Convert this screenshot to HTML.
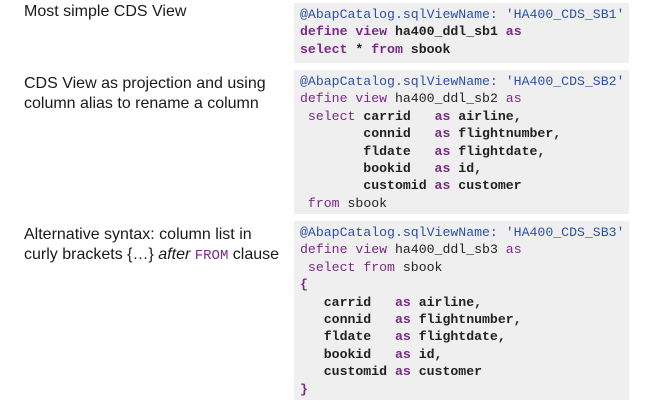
<!DOCTYPE html>
<html><head><meta charset="utf-8"><style>
body{margin:0;width:646px;height:405px;background:#fff;position:relative;overflow:hidden;font-family:"Liberation Sans",Arial,sans-serif;}
.l{position:absolute;left:24px;font-size:16px;line-height:20px;color:#1a1a1a;}
.box{position:absolute;left:294px;width:335px;background:#efefef;}
pre{margin:0;position:absolute;left:6px;font-family:"Liberation Mono","DejaVu Sans Mono",monospace;font-size:13.2px;line-height:17.4px;color:#222;}
.b{color:#2c50a8}.k{color:#7b2a86}.s{font-weight:bold}
.m{font-family:"Liberation Mono",monospace;color:#7b2a86;font-size:14px}
</style></head><body>
<div class="l" style="top:2px">Most simple CDS View</div>
<div class="l" style="top:74px">CDS View as projection and using<br>column alias to rename a column</div>
<div class="l" style="top:225px">Alternative syntax: column list in<br>curly brackets {…} <i>after</i> <span class="m">FROM</span> clause</div>

<div class="box" style="top:3px;height:60px">
<pre style="top:3px"><span class="b">@AbapCatalog.sqlViewName: 'HA400_CDS_SB1'</span>
<span class="k s">define view</span><span class="s"> ha400_ddl_sb1 </span><span class="k s">as</span>
<span class="k s">select</span><span class="s"> * </span><span class="k s">from</span><span class="s"> sbook</span></pre>
</div>

<div class="box" style="top:70px;height:144px">
<pre style="top:3px"><span class="b">@AbapCatalog.sqlViewName: 'HA400_CDS_SB2'</span>
<span class="k">define view</span> ha400_ddl_sb2 <span class="k">as</span>
 <span class="k">select</span> <span class="s">carrid   </span><span class="k s">as</span><span class="s"> airline,</span>
<span class="s">        connid   </span><span class="k s">as</span><span class="s"> flightnumber,</span>
<span class="s">        fldate   </span><span class="k s">as</span><span class="s"> flightdate,</span>
<span class="s">        bookid   </span><span class="k s">as</span><span class="s"> id,</span>
<span class="s">        customid </span><span class="k s">as</span><span class="s"> customer</span>
 <span class="k">from</span> sbook</pre>
</div>

<div class="box" style="top:221px;height:179px">
<pre style="top:3px"><span class="b">@AbapCatalog.sqlViewName: 'HA400_CDS_SB3'</span>
<span class="k">define view</span> ha400_ddl_sb3 <span class="k">as</span>
 <span class="k">select from</span> sbook
<span class="k s">{</span>
<span class="s">   carrid   </span><span class="k s">as</span><span class="s"> airline,</span>
<span class="s">   connid   </span><span class="k s">as</span><span class="s"> flightnumber,</span>
<span class="s">   fldate   </span><span class="k s">as</span><span class="s"> flightdate,</span>
<span class="s">   bookid   </span><span class="k s">as</span><span class="s"> id,</span>
<span class="s">   customid </span><span class="k s">as</span><span class="s"> customer</span>
<span class="k s">}</span></pre>
</div>
</body></html>
